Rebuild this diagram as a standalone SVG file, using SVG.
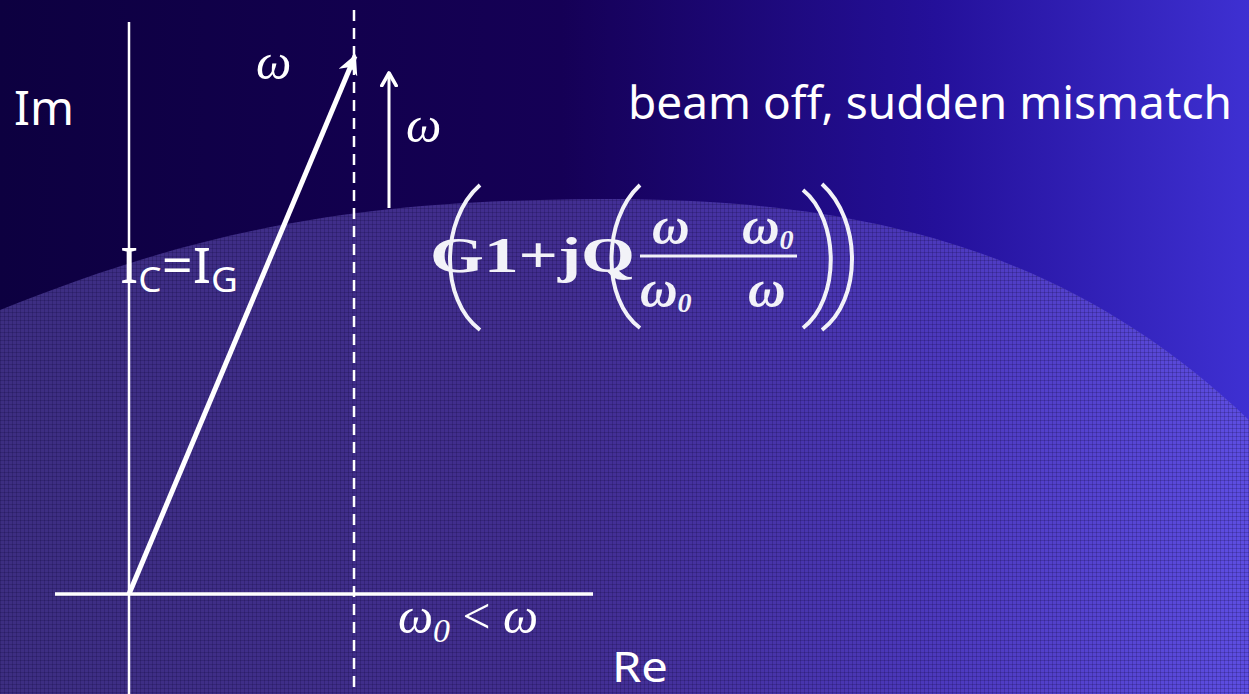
<svg xmlns="http://www.w3.org/2000/svg" width="1249" height="694" viewBox="0 0 1249 694">
<defs>
<linearGradient id="bg" x1="0" y1="0" x2="1" y2="0">
<stop offset="0" stop-color="#0d0040"/>
<stop offset="0.45" stop-color="#150056"/>
<stop offset="0.75" stop-color="#24109a"/>
<stop offset="1" stop-color="#3e30d2"/>
</linearGradient>
<pattern id="grid" width="4" height="4" patternUnits="userSpaceOnUse">
<rect width="4" height="4" fill="#9a88ff" fill-opacity="0.34"/>
<rect x="0" y="0" width="1" height="4" fill="#0a0030" fill-opacity="0.2"/>
<rect x="0" y="0" width="4" height="1" fill="#0a0030" fill-opacity="0.2"/>
</pattern>
<marker id="head" viewBox="0 0 10 10" refX="9" refY="5" markerWidth="4" markerHeight="4" orient="auto" markerUnits="strokeWidth">
<path d="M0,0 L10,5 L0,10 L3,5 Z" fill="#ffffff"/>
</marker>
<marker id="chev" viewBox="0 0 10 10" refX="8" refY="5" markerWidth="6" markerHeight="6" orient="auto" markerUnits="strokeWidth">
<path d="M1,1 L8,5 L1,9" fill="none" stroke="#ffffff" stroke-width="2" stroke-linecap="round" stroke-linejoin="round"/>
</marker>
<style>
.ax{stroke:#ffffff;fill:none}
.lbl{fill:#ffffff;font-family:"Noto Sans","DejaVu Sans",sans-serif}
.mth{fill:#ffffff;font-family:"Liberation Serif","DejaVu Serif",serif;font-style:italic}
.frm{fill:#f2f2f8;font-family:"Liberation Serif","DejaVu Serif",serif;font-weight:bold}
.par{fill:none;stroke:#f2f2f8;stroke-width:4}
</style>
</defs>
<g id="background">
<rect width="1249" height="694" fill="url(#bg)"/>
<path d="M0,310 C150,250 300,205 540,200 C820,192 1050,230 1249,420 L1249,694 L0,694 Z" fill="url(#grid)"/>
</g>
<g id="connectors">
<line class="ax" x1="129" y1="22" x2="129" y2="694" stroke-width="2.5"/>
<line class="ax" x1="55" y1="594" x2="593" y2="594" stroke-width="3.5"/>
<line class="ax" x1="354" y1="10" x2="354" y2="694" stroke-width="2.5" stroke-dasharray="11,7"/>
<line class="ax" x1="129" y1="594" x2="355" y2="56" stroke-width="5" marker-end="url(#head)"/>
<line class="ax" x1="389" y1="208" x2="389" y2="73" stroke-width="3" marker-end="url(#chev)"/>
</g>
<g id="label-im"><text class="lbl" x="14" y="125" font-size="48" textLength="60" lengthAdjust="spacingAndGlyphs">Im</text></g>
<g id="label-re"><text class="lbl" x="612" y="682" font-size="42" textLength="56" lengthAdjust="spacingAndGlyphs">Re</text></g>
<g id="label-title"><text class="lbl" x="628" y="119" font-size="45" textLength="604" lengthAdjust="spacingAndGlyphs">beam off, sudden mismatch</text></g>
<g id="label-icig"><text class="lbl" x="120" y="283" font-size="50" textLength="118" lengthAdjust="spacingAndGlyphs">I<tspan font-size="34" dy="9">C</tspan><tspan dy="-9">=I</tspan><tspan font-size="34" dy="9">G</tspan></text></g>
<g id="label-omega1"><text class="mth" x="256" y="79" font-size="50">ω</text></g>
<g id="label-omega2"><text class="mth" x="406" y="142" font-size="50">ω</text></g>
<g id="label-cond"><text class="mth" x="398" y="633" font-size="50" textLength="140" lengthAdjust="spacingAndGlyphs">ω<tspan font-size="34" dy="9">0</tspan><tspan dy="-9" font-style="normal"> &lt; </tspan>ω</text></g>
<g id="formula">
<path class="par" d="M480,185 C440,220 440,300 480,330"/>
<text class="frm" x="430" y="272" font-size="50" textLength="205" lengthAdjust="spacingAndGlyphs">G1+jQ</text>
<path class="par" d="M640,185 C602,220 602,300 640,328"/>
<text class="frm" x="652" y="243" font-size="52" font-style="italic">ω</text>
<text class="frm" x="742" y="243" font-size="52" font-style="italic">ω<tspan font-size="28" dy="6">0</tspan></text>
<line x1="640" y1="256" x2="797" y2="256" stroke="#f2f2f8" stroke-width="3"/>
<text class="frm" x="640" y="306" font-size="52" font-style="italic">ω<tspan font-size="28" dy="6">0</tspan></text>
<text class="frm" x="748" y="306" font-size="52" font-style="italic">ω</text>
<path class="par" d="M803,190 C840,220 840,300 803,328"/>
<path class="par" d="M822,184 C862,220 862,300 822,330"/>
</g>
</svg>
